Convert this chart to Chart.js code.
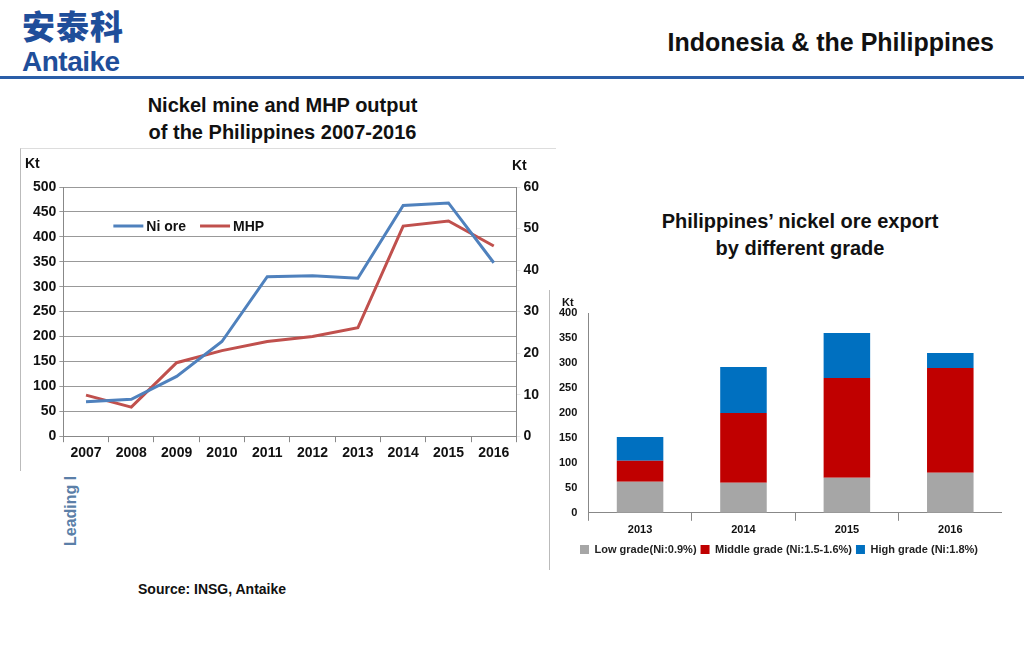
<!DOCTYPE html>
<html><head><meta charset="utf-8">
<script src="https://cdn.jsdelivr.net/npm/chart.js@4"></script>
<style>
body{margin:0;width:1024px;height:650px;background:#fff;font-family:"Liberation Sans",Arial,sans-serif;position:relative;overflow:hidden}
.abs{position:absolute}
</style></head><body>
<div class="abs" style="left:22px;top:6px;color:#1f4e9a;font-family:'Noto Sans CJK SC';font-weight:900;font-size:33px;line-height:38px;letter-spacing:1px">安泰科</div>
<div class="abs" style="left:22px;top:47px;color:#1f4e9a;font-weight:bold;font-size:28px;line-height:30px;letter-spacing:-0.5px">Antaike</div>
<div class="abs" style="left:0;top:76px;width:1024px;height:3px;background:#2a5ea8"></div>
<div class="abs" style="right:30px;top:28px;font-weight:bold;font-size:25px;color:#111">Indonesia &amp; the Philippines</div>
<div class="abs" style="left:100px;top:92px;width:365px;text-align:center;font-weight:bold;font-size:20px;line-height:27px;color:#111">Nickel mine and MHP output<br>of the Philippines 2007-2016</div>
<div class="abs" style="left:600px;top:208px;width:400px;text-align:center;font-weight:bold;font-size:20px;line-height:27px;color:#111">Philippines’ nickel ore export<br>by different grade</div>
<div class="abs" style="left:20px;top:148px;width:535px;height:322px;border-left:1px solid #bbb;border-top:1px solid #ddd"></div>
<div class="abs" style="left:549px;top:290px;height:280px;border-left:1px solid #bbb"></div>
<div class="abs" style="left:62px;top:546px;transform:rotate(-90deg);transform-origin:left top;color:#5b7fa8;font-weight:bold;font-size:16px;width:100px;white-space:nowrap">Leading I</div>
<div class="abs" style="left:138px;top:581px;font-weight:bold;font-size:14px;color:#111">Source: INSG, Antaike</div>
<div class="abs" style="left:22px;top:150px;width:532px;height:318px"><canvas id="c1"></canvas></div>
<div class="abs" style="left:552px;top:290px;width:450px;height:275px"><canvas id="c2"></canvas></div>
<script>
const years=['2007','2008','2009','2010','2011','2012','2013','2014','2015','2016'];
const niOre=[69,74,120,190,320,322,317,463,468,348];
const mhp=[9.9,7,17.7,20.6,22.8,24,26.1,50.6,51.8,45.8];
const gradeYears=['2013','2014','2015','2016'];
const lowGrade=[62,60,70,80];
const midGrade=[42,140,200,210];
const highGrade=[48,92,90,30];
const f='Liberation Sans';
new Chart(document.getElementById('c1'),{type:'line',
data:{labels:years,datasets:[
{label:'Ni ore',data:niOre,borderColor:'#4f81bd',borderWidth:3,pointRadius:0,yAxisID:'y',tension:0},
{label:'MHP',data:mhp,borderColor:'#c0504d',borderWidth:3,pointRadius:0,yAxisID:'y1',tension:0}]},
options:{animation:false,responsive:true,maintainAspectRatio:false,layout:{padding:{top:37,right:12,left:8,bottom:3}},
plugins:{legend:{display:false},tooltip:{enabled:false}},
scales:{x:{offset:true,grid:{display:true,offset:true,drawOnChartArea:false,color:'#888',tickLength:6},border:{color:'#888'},ticks:{font:{family:f,size:14,weight:'bold'},color:'#111'}},
y:{min:0,max:500,ticks:{stepSize:50,font:{family:f,size:14,weight:'bold'},color:'#111'},grid:{color:'#999',tickLength:4},border:{color:'#888'}},
y1:{position:'right',min:0,max:60,ticks:{stepSize:10,font:{family:f,size:14,weight:'bold'},color:'#111'},grid:{drawOnChartArea:false,tickLength:4},border:{color:'#888'}}}},
plugins:[{id:'kt',afterDraw(c){const x=c.ctx;x.save();x.font='bold 14px '+f;x.fillStyle='#111';x.fillText('Kt',3,18);x.fillText('Kt',c.width-42,20);
 let lx=c.chartArea.left+50,ly=76;x.lineWidth=3;
 c.data.datasets.forEach(d=>{x.strokeStyle=d.borderColor;x.beginPath();x.moveTo(lx,ly);x.lineTo(lx+30,ly);x.stroke();x.fillText(d.label,lx+33,ly+5);lx+=33+x.measureText(d.label).width+14;});
 x.restore();}}]
});
new Chart(document.getElementById('c2'),{type:'bar',
data:{labels:gradeYears,datasets:[
{label:'Low grade(Ni:0.9%)',data:lowGrade,backgroundColor:'#a6a6a6'},
{label:'Middle grade (Ni:1.5-1.6%)',data:midGrade,backgroundColor:'#c00000'},
{label:'High grade (Ni:1.8%)',data:highGrade,backgroundColor:'#0070c0'}]},
options:{animation:false,responsive:true,maintainAspectRatio:false,layout:{padding:{top:23,right:0,left:4}},
datasets:{bar:{categoryPercentage:1,barPercentage:0.45}},
plugins:{legend:{position:'bottom',labels:{boxWidth:9,boxHeight:9,font:{family:f,size:11,weight:'bold'},color:'#222',padding:4}},tooltip:{enabled:false}},
scales:{x:{stacked:true,grid:{display:true,drawOnChartArea:false,color:'#888'},border:{color:'#888'},ticks:{font:{family:f,size:11,weight:'bold'},color:'#111'}},
y:{stacked:true,min:0,max:400,ticks:{stepSize:50,font:{family:f,size:11,weight:'bold'},color:'#111'},grid:{display:false},border:{color:'#888'}}}},
plugins:[{id:'kt2',afterDraw(c){const x=c.ctx;x.save();x.font='bold 11px '+f;x.fillStyle='#111';x.fillText('Kt',10,13);x.restore();}}]
});
</script>
</body></html>
